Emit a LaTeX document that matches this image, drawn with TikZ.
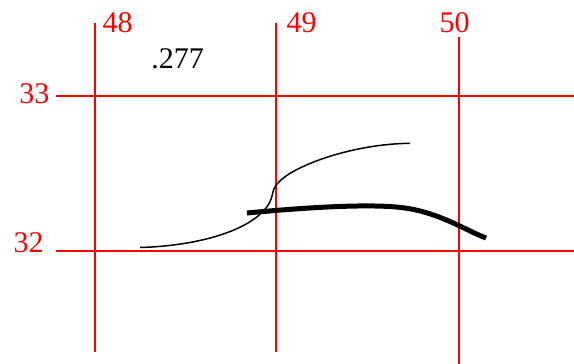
\documentclass[tikz,border=0pt]{standalone}
\usepackage{fontspec}
\setmainfont{Liberation Serif}
\begin{document}
\begin{tikzpicture}[x=1pt,y=-1pt,
  grid/.style={red,line width=1.8pt},
  lbl/.style={text=red,font=\fontsize{30}{31}\selectfont,inner sep=0pt,anchor=base},
  thin/.style={black,line width=1.5pt},
  thick/.style={black,line width=5pt}]
\useasboundingbox (0,0) rectangle (574,364);
% grid lines
\draw[grid] (95,23) -- (95,352);
\draw[grid] (276,23) -- (276,352);
\draw[grid] (459,37) -- (459,364);
\draw[grid] (56,96) -- (574,96);
\draw[grid] (56,251) -- (574,251);
% labels
\node[lbl] (l48) at (117.5,32) {48};
\node[lbl] (l49) at (301.5,32) {49};
\node[lbl] (l50) at (454.5,32) {50};
\node[lbl] (l33) at (34.5,103) {33};
\node[lbl] (l32) at (28.5,252) {32};
\node[lbl,text=black] (val) at (177.5,68) {.277};
% curves
\draw[thin] (140,247.5) .. controls (195,246) and (247,232) .. (266,208)
  .. controls (275,197) and (270,190) .. (279,182)
  .. controls (292,167) and (350,144) .. (410,143.3);
\draw[thick] (247,213) .. controls (300,208) and (370,203) .. (405,208)
  .. controls (440,213) and (465,230) .. (486,238);
\end{tikzpicture}
\end{document}
